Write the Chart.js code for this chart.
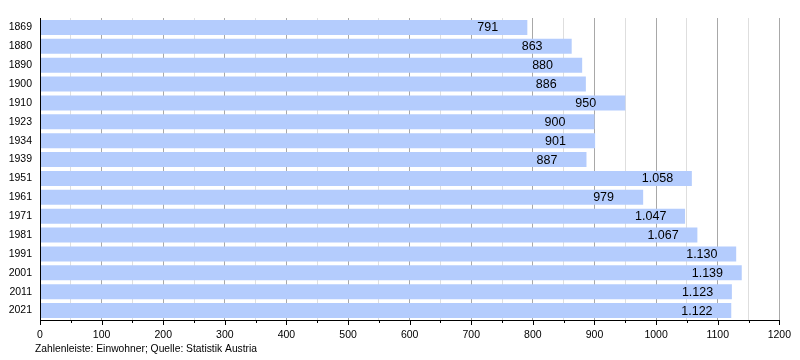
<!DOCTYPE html>
<html><head><meta charset="utf-8">
<script src="https://cdn.jsdelivr.net/npm/chart.js@4/dist/chart.umd.min.js"></script>
<style>html,body{margin:0;padding:0;background:#fff}#c{display:block}</style>
</head><body>
<canvas id="c" width="800" height="360"></canvas>
<script>
const years = ['1869','1880','1890','1900','1910','1923','1934','1939','1951','1961','1971','1981','1991','2001','2011','2021'];
const population = [791,863,880,886,950,900,901,887,1058,979,1047,1067,1130,1139,1123,1122];
const xTickLabels = ['0','100','200','300','400','500','600','700','800','900','1000','1100','1200'];
const footnote = 'Zahlenleiste: Einwohner; Quelle: Statistik Austria';

const FONT = '"Liberation Sans", Arial, sans-serif';
function fmt(v){ return String(v).replace(/\B(?=(\d{3})+(?!\d))/g,'.'); }

const overlay = {
  id:'overlay',
  afterDatasetsDraw(chart){
    const ctx = chart.ctx, xs = chart.scales.x, a = chart.chartArea;
    ctx.save();
    ctx.font = '12.5px ' + FONT;
    ctx.fillStyle = '#000';
    ctx.textBaseline = 'middle';
    ctx.textAlign = 'left';
    const meta = chart.getDatasetMeta(0);
    meta.data.forEach((bar,i)=>{
      ctx.fillText(fmt(population[i]), bar.x - 50, bar.y + 0.5);
    });
    ctx.strokeStyle = '#000';
    ctx.lineWidth = 1;
    ctx.beginPath();
    ctx.moveTo(Math.round(a.left)+0.5, a.top);
    ctx.lineTo(Math.round(a.left)+0.5, a.bottom+0.5);
    ctx.lineTo(a.right, Math.round(a.bottom)+0.5);
    ctx.stroke();
    for (let v=0; v<=1200; v+=50){
      const px = Math.round(xs.getPixelForValue(v))+0.5;
      const len = (v%100===0) ? 5 : 3;
      ctx.beginPath();
      ctx.moveTo(px, Math.round(a.bottom));
      ctx.lineTo(px, Math.round(a.bottom)+len);
      ctx.stroke();
    }
    ctx.font = '10.3px ' + FONT;
    ctx.textAlign = 'left';
    ctx.fillText(footnote, 35, 349);
    ctx.restore();
  }
};

new Chart(document.getElementById('c'), {
  type:'bar',
  data:{ labels: years, datasets:[{ data: population, backgroundColor:'#b4ccfd', borderWidth:0, barPercentage:0.8, categoryPercentage:1.0 }]},
  options:{
    indexAxis:'y',
    responsive:false,
    animation:false,
    layout:{ padding:{ top:18, right:19.3, left:0, bottom:0 } },
    plugins:{ legend:{display:false}, tooltip:{enabled:false} },
    scales:{
      x:{
        min:0, max:1200,
        afterFit(s){ s.height = 40; },
        border:{display:false},
        grid:{
          drawTicks:false,
          color(c){ return (c.tick && c.tick.value%100===0) ? '#a8a8a8' : '#dedede'; },
          lineWidth:1
        },
        ticks:{
          stepSize:50,
          autoSkip:false,
          maxRotation:0,
          padding:9,
          color:'#000',
          font:{family:FONT, size:10.5},
          callback(v){ return v%100===0 ? xTickLabels[v/100] : ''; }
        }
      },
      y:{
        afterFit(s){ s.width = 40; },
        border:{display:false},
        grid:{display:false, drawTicks:false},
        ticks:{ color:'#000', padding:8, font:{family:FONT, size:10.5} }
      }
    }
  },
  plugins:[overlay]
});
</script>
</body></html>
